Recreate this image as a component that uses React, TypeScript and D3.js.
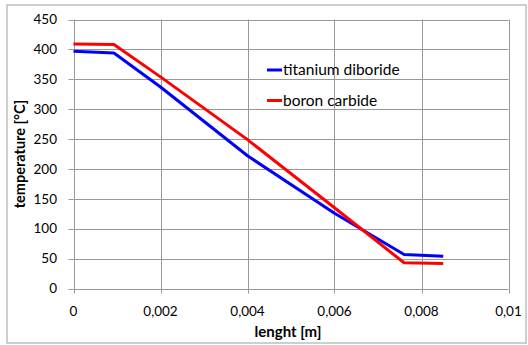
import React, { useEffect, useRef } from 'react';
import * as d3 from 'd3';

// lenght [m]
const titaniumX = [0, 0.00093, 0.002, 0.004, 0.006, 0.0076, 0.0085];
const titaniumY = [397, 394, 337, 222, 126, 57, 54];
const boronX = [0, 0.00093, 0.002, 0.004, 0.006, 0.0076, 0.0085];
const boronY = [409, 408, 354, 249, 135, 43, 42];

const xTicks = [0, 0.002, 0.004, 0.006, 0.008, 0.01];
const yTicks = [0, 50, 100, 150, 200, 250, 300, 350, 400, 450];

const SERIES = [
  { name: 'titanium diboride', color: '#0000ff', xs: titaniumX, ys: titaniumY },
  { name: 'boron carbide', color: '#ff0000', xs: boronX, ys: boronY },
];

const FONT = 'Lato, "Open Sans", sans-serif';

const App: React.FC = () => {
  const svgRef = useRef<SVGSVGElement>(null);

  useEffect(() => {
    if (!svgRef.current) return;
    d3.select(svgRef.current).selectAll('*').remove();

    const width = 528;
    const height = 345;
    const plot = { left: 73.5, right: 508.5, top: 19.5, bottom: 288.5 };

    const svg = d3.select(svgRef.current)
      .attr('width', width)
      .attr('height', height);

    // chart border
    svg.append('rect')
      .attr('x', 7)
      .attr('y', 5)
      .attr('width', 519)
      .attr('height', 338)
      .attr('fill', '#fff')
      .attr('stroke', '#bfbfbf')
      .attr('stroke-width', 1.5);

    const x = d3.scaleLinear().domain([0, 0.01]).range([plot.left, plot.right]);
    const y = d3.scaleLinear().domain([0, 450]).range([plot.bottom, plot.top]);

    const locale = d3.formatLocale({ decimal: ',', thousands: '.', grouping: [3], currency: ['', ''] });
    const fmt = locale.format('~g');

    // gridlines
    svg.append('g')
      .selectAll('line')
      .data(yTicks)
      .enter()
      .append('line')
      .attr('x1', plot.left)
      .attr('x2', plot.right)
      .attr('y1', d => Math.round(y(d)) + 0.5)
      .attr('y2', d => Math.round(y(d)) + 0.5)
      .attr('stroke', '#989898')
      .attr('stroke-width', 1);

    svg.append('g')
      .selectAll('line')
      .data(xTicks)
      .enter()
      .append('line')
      .attr('x1', d => Math.round(x(d)) + 0.5)
      .attr('x2', d => Math.round(x(d)) + 0.5)
      .attr('y1', plot.top)
      .attr('y2', plot.bottom + 5)
      .attr('stroke', '#989898')
      .attr('stroke-width', 1);

    // y tick marks
    svg.append('g')
      .selectAll('line')
      .data(yTicks)
      .enter()
      .append('line')
      .attr('x1', plot.left - 5)
      .attr('x2', plot.left)
      .attr('y1', d => Math.round(y(d)) + 0.5)
      .attr('y2', d => Math.round(y(d)) + 0.5)
      .attr('stroke', '#989898');

    // tick labels
    svg.append('g')
      .selectAll('text')
      .data(yTicks)
      .enter()
      .append('text')
      .attr('x', 57)
      .attr('y', d => y(d))
      .attr('dy', '0.35em')
      .attr('text-anchor', 'end')
      .style('font-family', FONT)
      .style('font-size', '13.5px')
      .style('fill', '#000')
      .text(d => fmt(d));

    svg.append('g')
      .selectAll('text')
      .data(xTicks)
      .enter()
      .append('text')
      .attr('x', d => x(d))
      .attr('y', 316)
      .attr('text-anchor', 'middle')
      .style('font-family', FONT)
      .style('font-size', '13.5px')
      .style('fill', '#000')
      .text(d => fmt(d));

    // axis titles
    svg.append('text')
      .attr('x', (plot.left + plot.right) / 2 - 3)
      .attr('y', 337)
      .attr('text-anchor', 'middle')
      .style('font-family', FONT)
      .style('font-size', '15px')
      .style('font-weight', 'bold')
      .text('lenght [m]');

    svg.append('text')
      .attr('transform', `translate(25, ${(plot.top + plot.bottom) / 2}) rotate(-90)`)
      .attr('text-anchor', 'middle')
      .style('font-family', FONT)
      .style('font-size', '14.5px')
      .style('font-weight', 'bold')
      .text('temperature [°C]');

    // lines
    const line = d3.line<[number, number]>()
      .x(d => x(d[0]))
      .y(d => y(d[1]));

    SERIES.forEach(s => {
      const pts: [number, number][] = s.xs.map((v, i) => [v, s.ys[i]]);
      svg.append('path')
        .datum(pts)
        .attr('d', line)
        .attr('fill', 'none')
        .attr('stroke', s.color)
        .attr('stroke-width', 3)
        .attr('stroke-linejoin', 'round');
    });

    // legend
    const legend = svg.append('g').attr('transform', 'translate(267, 70)');
    SERIES.forEach((s, i) => {
      const row = legend.append('g').attr('transform', `translate(0, ${i * 30.5})`);
      row.append('line')
        .attr('x1', 0)
        .attr('x2', 15)
        .attr('y1', 0)
        .attr('y2', 0)
        .attr('stroke', s.color)
        .attr('stroke-width', 3);
      row.append('text')
        .attr('x', 16)
        .attr('y', 0)
        .attr('dy', '0.35em')
        .style('font-family', FONT)
        .style('font-size', '15.5px')
        .text(s.name);
    });
  }, []);

  return (
    <svg ref={svgRef} style={{ position: 'absolute', left: 0, top: 0, display: 'block' }} />
  );
};

export default App;
